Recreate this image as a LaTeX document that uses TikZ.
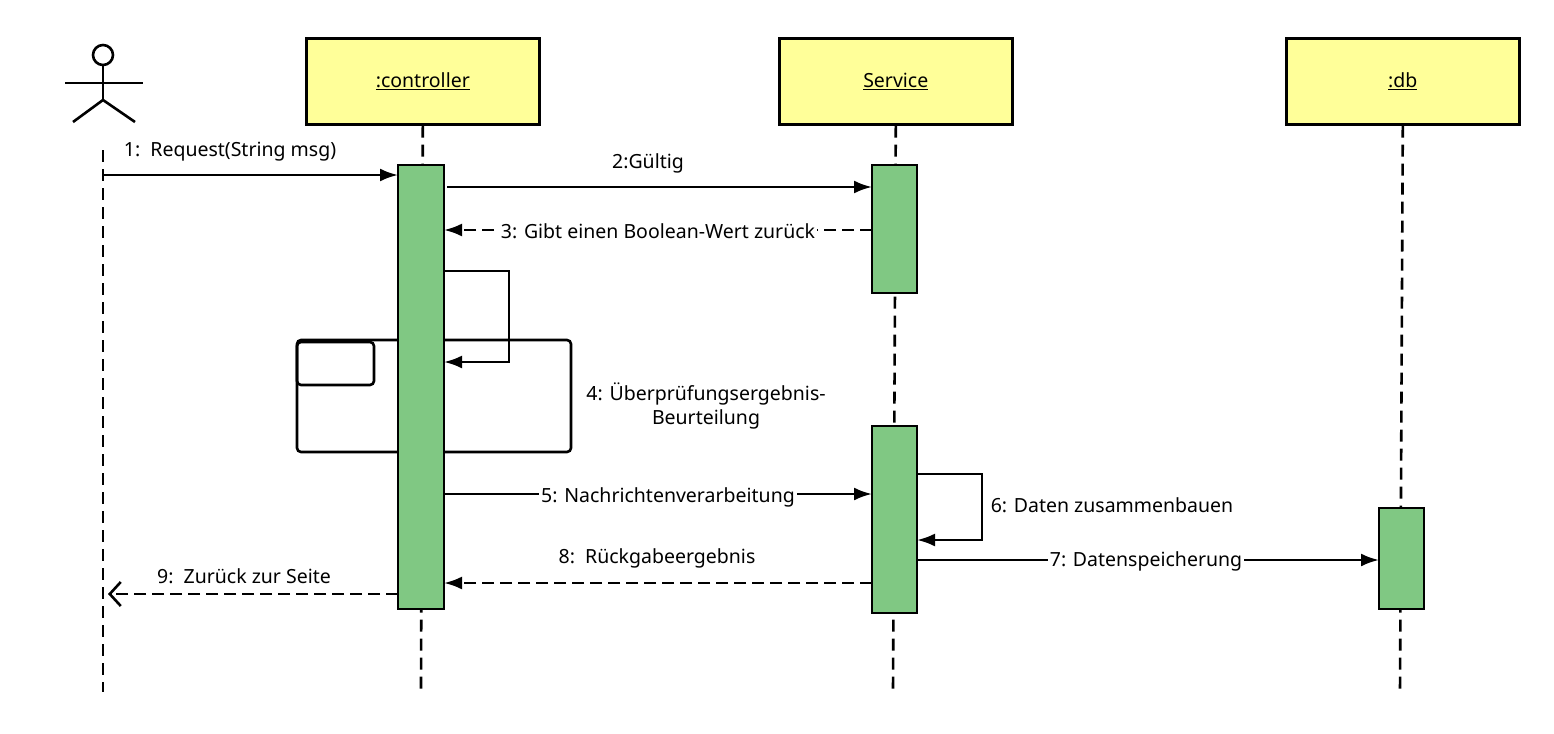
\documentclass[tikz,border=0pt]{standalone}
\usepackage{fontspec}
\setmainfont{Noto Sans}
\usetikzlibrary{arrows.meta}
\definecolor{boxy}{HTML}{FFFF99}
\definecolor{actg}{HTML}{80C883}
\begin{document}
\begin{tikzpicture}[x=1pt,y=-1pt,line width=2.6pt,
  every node/.style={font=\fontsize{19.5}{24}\selectfont},
  obj/.style={draw,fill=boxy,minimum width=233pt,minimum height=86pt,anchor=north west,inner sep=0pt},
  act/.style={draw,fill=actg},
  life/.style={dash pattern=on 12pt off 7pt},
  msg/.style={-{Latex[length=18pt,width=13pt]}},
  ret/.style={msg,dash pattern=on 12pt off 6pt},
  lbl/.style={fill=white,inner sep=2pt}]
\useasboundingbox (0,0) rectangle (1554,733);
% actor
\node[draw,circle,minimum size=20pt,inner sep=0pt] (head) at (103,55) {};
\draw (head.south) -- (103,100) coordinate (hip);
\draw (65,83) -- (143,83);
\draw (73,122) -- (hip) -- (135,122);
\coordinate (a0) at (103,150); \coordinate (a1) at (103,692);
\draw[life] (a0) -- (a1);
% objects
\node[obj] (ctl) at (305,37) {\underline{:controller}};
\node[obj] (svc) at (778,37) {\underline{Service}};
\node[obj] (db) at (1285,37) {\underline{:db}};
\coordinate (c1) at (421,690); \coordinate (s1) at (893,690); \coordinate (d1) at (1400,690);
\draw[life] (ctl.south) -- (c1);
\draw[life] (svc.south) -- (s1);
\draw[life] (db.south) -- (d1);
% frames
\draw[rounded corners=4pt] (297,340) rectangle (571,452);
\draw[rounded corners=4pt] (297,342) rectangle (374,385);
% activations
\draw[act] (398,165) rectangle (444,609);
\draw[act] (872,165) rectangle (917,293);
\draw[act] (872,426) rectangle (917,613);
\draw[act] (1379,508) rectangle (1424,609);
% messages
\draw[msg] (103,175) -- (398,175);
\node at (230,152) {1:\ \ Request(String msg)};
\draw[msg] (447,187) -- (872,187);
\node at (648,163) {2:Gültig};
\draw[ret] (872,230) -- (444,230);
\node[lbl] at (658,231) {3: Gibt einen Boolean-Wert zurück};
\draw[msg] (444,271) -- (509,271) -- (509,362) -- (444,362);
\node[align=center] at (706,406) {4: Überprüfungsergebnis-\\Beurteilung};
\draw[msg] (444,494) -- (872,494);
\node[lbl] at (668,497) {5: Nachrichtenverarbeitung};
\draw[msg] (917,474) -- (982,474) -- (982,540) -- (917,540);
\node at (1112,505) {6: Daten zusammenbauen};
\draw[msg] (917,560) -- (1379,560);
\node[lbl] at (1146,561) {7: Datenspeicherung};
\draw[ret] (872,583) -- (444,583);
\node at (657,558) {8:\ \ Rückgabeergebnis};
\draw[dash pattern=on 12pt off 6pt,-{Straight Barb[length=11pt,width=24pt]}] (398,594) -- (108,594);
\node at (244,576) {9:\ \ Zurück zur Seite};
\end{tikzpicture}
\end{document}
